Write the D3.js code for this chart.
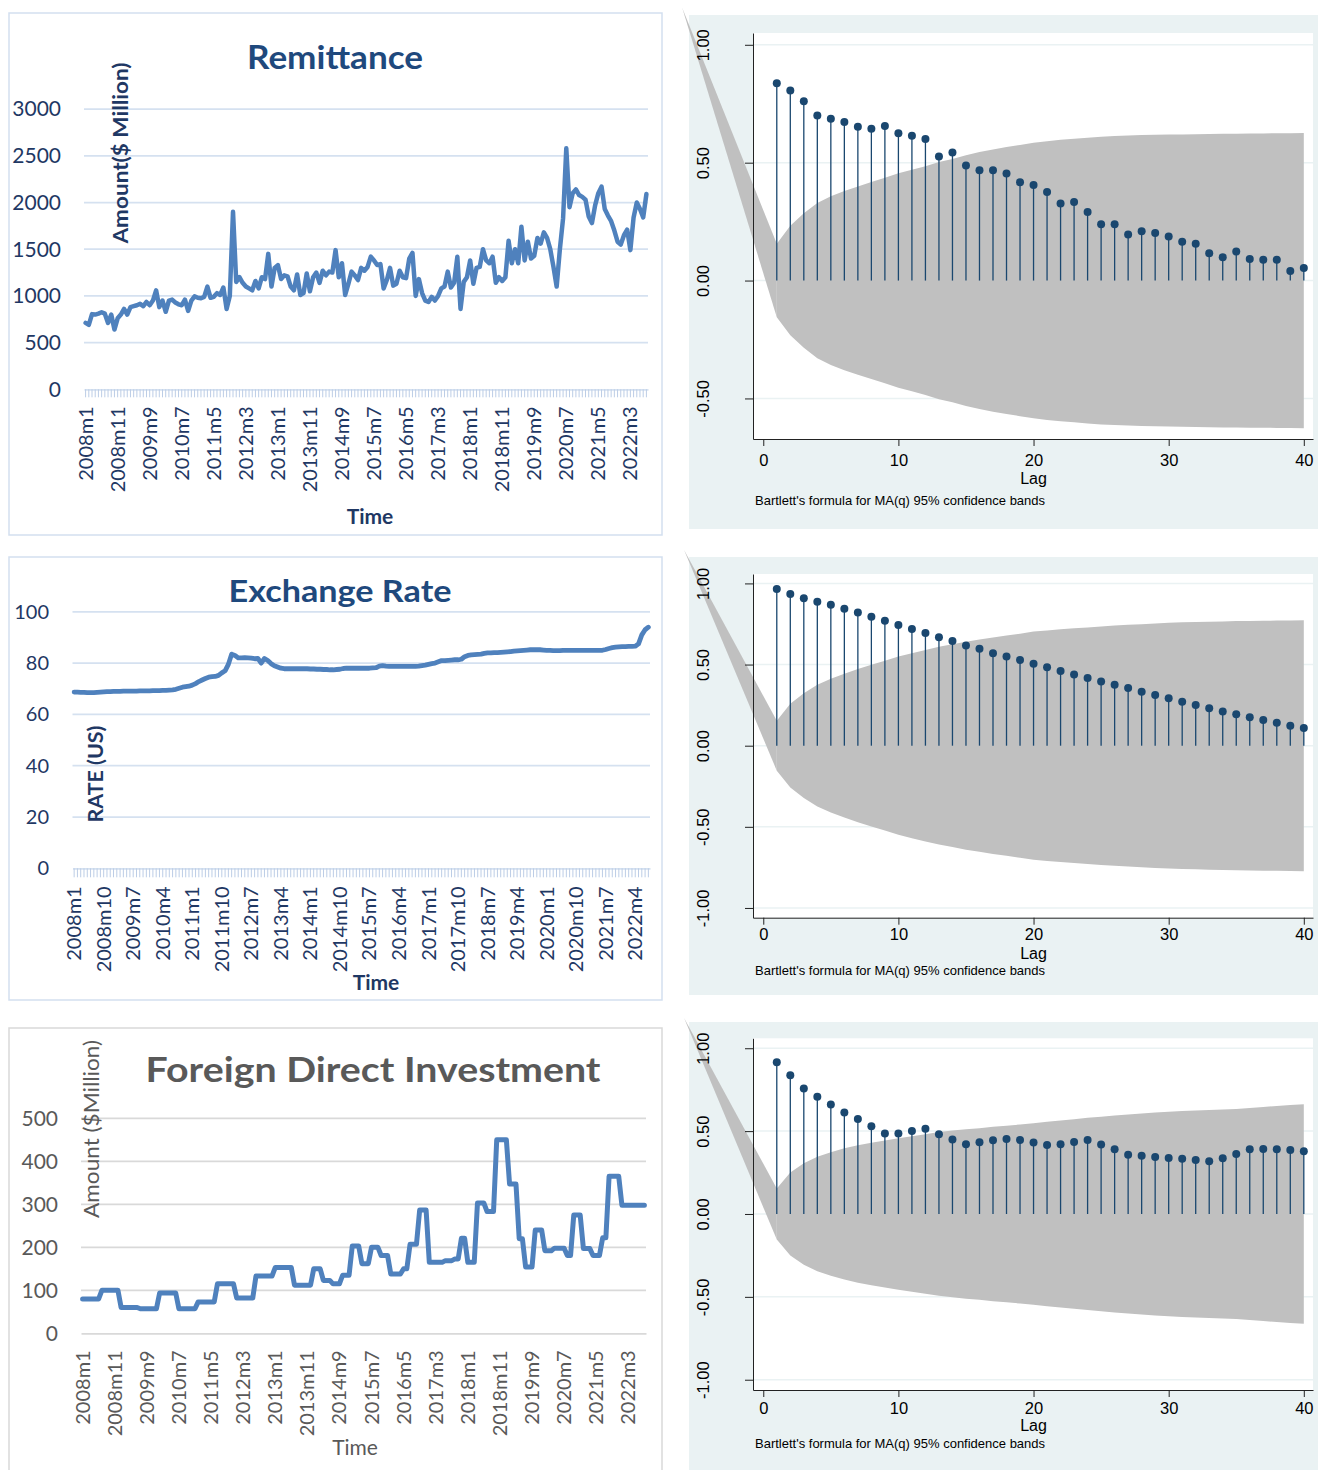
<!DOCTYPE html>
<html>
<head>
<meta charset="utf-8">
<script src="https://cdn.jsdelivr.net/npm/d3@7"></script>
<style>
  body { margin: 0; background: #fff; }
  svg { display: block; }
  .xl text { font-family: Lato, "Open Sans", sans-serif; }
  .st text { font-family: "Liberation Sans", Arial, sans-serif; }
</style>
</head>
<body>
<script>
// monthly categories 2008m1 .. 2022m8
const months = d3.range(176).map(i => (2008 + Math.floor(i / 12)) + 'm' + (i % 12 + 1));

const remitLabels = ['2008m1','2008m11','2009m9','2010m7','2011m5','2012m3','2013m1','2013m11','2014m9',
  '2015m7','2016m5','2017m3','2018m1','2018m11','2019m9','2020m7','2021m5','2022m3'];
const exchLabels = ['2008m1','2008m10','2009m7','2010m4','2011m1','2011m10','2012m7','2013m4','2014m1','2014m10',
  '2015m7','2016m4','2017m1','2017m10','2018m7','2019m4','2020m1','2020m10','2021m7','2022m4'];
const fdiLabels = remitLabels;

const remitTicks = [0, 500, 1000, 1500, 2000, 2500, 3000];
const exchTicks = [0, 20, 40, 60, 80, 100];
const fdiTicks = [0, 100, 200, 300, 400, 500];

const remittance = [
  711,690,805,800,810,825,810,711,800,640,
  760,800,860,800,880,890,900,915,890,935,
  900,950,1060,880,950,830,950,960,930,910,
  900,960,840,950,995,980,975,990,1100,980,
  990,1030,1010,1090,860,1000,1900,1150,1200,1140,
  1100,1080,1060,1160,1080,1200,1180,1450,1100,1300,
  1330,1180,1220,1210,1100,1060,1230,1010,1030,1240,
  1050,1200,1250,1140,1270,1220,1260,1250,1490,1200,
  1350,1010,1130,1260,1220,1170,1300,1270,1310,1420,
  1380,1330,1340,1080,1170,1300,1110,1130,1270,1200,
  1190,1400,1460,1000,1180,1030,950,935,990,950,
  1000,1080,1100,1260,1090,1140,1420,860,1150,1200,
  1380,1130,1300,1310,1500,1380,1350,1420,1140,1200,
  1160,1200,1590,1350,1500,1350,1740,1380,1580,1400,
  1430,1620,1560,1680,1620,1500,1310,1100,1500,1830,
  2580,1950,2100,2140,2080,2060,2030,1850,1780,1970,
  2100,2170,1930,1860,1800,1700,1580,1550,1650,1710,
  1490,1840,2000,1930,1840,2090
];

const exchangeRate = [
  68.7,68.7,68.6,68.6,68.5,68.5,68.5,68.6,68.7,68.8,68.9,68.9,
  69.0,69.0,69.0,69.1,69.1,69.1,69.1,69.1,69.2,69.2,69.2,69.2,
  69.3,69.3,69.3,69.4,69.4,69.5,69.6,69.8,70.2,70.6,70.8,71.0,
  71.4,72.0,72.8,73.4,74.0,74.5,74.7,74.8,75.2,76.2,77.0,79.5,
  83.5,83.0,82.0,82.0,82.1,82.0,81.9,81.7,81.8,80.0,81.8,81.0,
  79.8,79.0,78.5,78.0,77.8,77.8,77.8,77.8,77.8,77.8,77.8,77.8,
  77.7,77.7,77.6,77.6,77.5,77.5,77.4,77.4,77.5,77.6,77.9,78.0,
  78.0,78.0,78.0,78.0,78.0,78.0,78.0,78.1,78.2,78.8,79.0,78.8,
  78.7,78.7,78.7,78.7,78.7,78.7,78.7,78.7,78.7,78.8,79.0,79.2,
  79.5,79.8,80.0,80.5,81.0,81.0,81.1,81.2,81.3,81.3,81.5,82.5,
  83.0,83.2,83.3,83.4,83.5,83.8,84.0,84.0,84.1,84.1,84.2,84.3,
  84.4,84.5,84.7,84.8,84.9,85.0,85.1,85.2,85.2,85.2,85.2,85.1,
  85.0,85.0,84.9,84.9,84.9,85.0,85.0,85.0,85.0,85.0,85.0,85.0,
  85.0,85.0,85.0,85.0,85.0,85.0,85.3,85.7,86.0,86.2,86.3,86.4,
  86.4,86.5,86.5,86.6,87.5,91.0,93.0,94.0
];

const fdi = [
  80,80,80,80,80,80,100,100,100,100,100,100,
  60,60,60,60,60,60,57,57,57,57,57,57,
  94,94,94,94,94,94,57,57,57,57,57,57,
  73,73,73,73,73,73,115,115,115,115,115,115,
  82,82,82,82,82,82,133,133,133,133,133,133,
  153,153,153,153,153,153,112,112,112,112,112,112,
  150,150,150,123,123,123,115,115,115,135,135,135,
  203,203,203,162,162,162,200,200,200,181,181,181,
  138,138,138,138,150,150,207,207,207,287,287,287,
  165,165,165,165,165,169,169,169,173,173,221,221,
  165,165,165,303,303,303,283,283,283,450,450,450,
  450,347,347,347,220,220,154,154,154,240,240,240,
  192,192,192,198,198,198,198,181,181,275,275,275,
  197,197,197,181,181,181,222,222,365,365,365,365,
  298,298,298,298,298,298,298,298
];

// autocorrelations, lags 1..40
const lags = d3.range(1, 41);
const acfRemit = [0.837,0.806,0.760,0.700,0.686,0.672,0.652,0.644,0.656,0.625,
  0.614,0.600,0.526,0.543,0.488,0.468,0.468,0.454,0.417,0.405,
  0.376,0.327,0.333,0.291,0.239,0.239,0.195,0.209,0.202,0.187,
  0.165,0.156,0.116,0.099,0.123,0.091,0.088,0.088,0.041,0.053];
const acfExch = [0.965,0.934,0.908,0.887,0.869,0.844,0.821,0.795,0.770,0.743,
  0.719,0.694,0.669,0.645,0.618,0.598,0.569,0.550,0.528,0.505,
  0.483,0.460,0.439,0.417,0.396,0.376,0.355,0.333,0.312,0.292,
  0.271,0.251,0.230,0.211,0.193,0.175,0.158,0.142,0.123,0.109];
const acfFdi = [0.915,0.837,0.757,0.708,0.660,0.612,0.573,0.529,0.485,0.485,
  0.501,0.515,0.481,0.449,0.421,0.433,0.445,0.453,0.447,0.431,
  0.416,0.421,0.435,0.447,0.419,0.390,0.358,0.352,0.344,0.338,
  0.334,0.326,0.318,0.336,0.362,0.390,0.392,0.390,0.386,0.378];

// Bartlett 95% band half-widths, lags 1..40
const bandRemit = [0.156,0.232,0.285,0.329,0.358,0.380,0.399,0.418,0.436,0.455,
  0.470,0.485,0.503,0.516,0.532,0.545,0.556,0.566,0.575,0.584,
  0.591,0.597,0.601,0.606,0.610,0.613,0.615,0.617,0.618,0.619,
  0.620,0.621,0.622,0.623,0.623,0.624,0.624,0.625,0.625,0.626];
const bandExch = [0.154,0.258,0.323,0.375,0.412,0.443,0.472,0.498,0.523,0.549,
  0.570,0.590,0.609,0.625,0.641,0.654,0.667,0.679,0.690,0.703,
  0.710,0.717,0.723,0.729,0.735,0.740,0.745,0.749,0.753,0.757,
  0.760,0.762,0.764,0.766,0.768,0.769,0.770,0.771,0.772,0.773];
const bandFdi = [0.154,0.250,0.306,0.345,0.373,0.396,0.415,0.430,0.444,0.457,
  0.469,0.481,0.494,0.503,0.511,0.518,0.526,0.533,0.540,0.548,
  0.556,0.564,0.572,0.580,0.587,0.594,0.600,0.606,0.612,0.617,
  0.621,0.625,0.628,0.631,0.634,0.640,0.646,0.652,0.657,0.662];

const svg = d3.select('body').append('svg')
  .attr('width', 1318)
  .attr('height', 1470);

// ---------- Excel style line charts ----------
const lineChart = (o) => {
  const g = svg.append('g').attr('class', 'xl');

  g.append('rect')
    .attr('x', o.box[0]).attr('y', o.box[1])
    .attr('width', o.box[2]).attr('height', o.box[3])
    .attr('fill', '#fff')
    .attr('stroke', o.border)
    .attr('stroke-width', 1.5);

  const xScale = d3.scaleBand().domain(months).range(o.xRange);
  const yScale = d3.scaleLinear().domain([0, o.yMax]).range(o.yRange);

  g.append('g').selectAll('line')
    .data(o.yTicks.filter(d => d > 0))
    .join('line')
      .attr('x1', o.xRange[0]).attr('x2', o.xRange[1])
      .attr('y1', d => yScale(d)).attr('y2', d => yScale(d))
      .attr('stroke', o.grid)
      .attr('stroke-width', 1.75);

  g.append('g').selectAll('text')
    .data(o.yTicks)
    .join('text')
      .attr('x', o.yLabelX)
      .attr('y', d => yScale(d))
      .attr('dy', '0.35em')
      .attr('text-anchor', 'end')
      .attr('fill', o.color)
      .style('font-size', o.yFont + 'px')
      .text(d => d);

  const xAxis = d3.axisBottom(xScale)
    .tickSizeInner(o.tickLen)
    .tickSizeOuter(0)
    .tickFormat(d => o.xLabels.includes(d) ? d : '');

  const xAxisG = g.append('g')
    .attr('transform', `translate(0,${yScale(0)})`)
    .call(xAxis);
  xAxisG.select('.domain').attr('stroke', o.grid).attr('stroke-width', 1.75);
  xAxisG.selectAll('.tick line').attr('stroke', o.tickColor).attr('stroke-width', 1);
  xAxisG.selectAll('.tick text')
    .attr('transform', 'rotate(-90)')
    .attr('x', -o.labelGap)
    .attr('y', 0)
    .attr('dy', '0.35em')
    .style('text-anchor', 'end')
    .style('font-size', '20px')
    .style('font-family', 'Lato, sans-serif')
    .attr('fill', o.color);

  g.append('path')
    .datum(o.values)
    .attr('fill', 'none')
    .attr('stroke', '#4F81BD')
    .attr('stroke-width', o.lineWidth)
    .attr('stroke-linejoin', 'round')
    .attr('stroke-linecap', 'round')
    .attr('d', d3.line()
      .x((d, i) => xScale(months[i]) + xScale.bandwidth() / 2)
      .y(d => yScale(d)));

  g.append('text')
    .attr('x', o.title.x).attr('y', o.title.y)
    .attr('text-anchor', 'middle')
    .attr('fill', o.title.color)
    .attr('textLength', o.title.len)
    .attr('lengthAdjust', 'spacingAndGlyphs')
    .style('font-size', o.title.size + 'px')
    .style('font-weight', 'bold')
    .text(o.title.text);

  g.append('text')
    .attr('transform', `translate(${o.yTitle.x},${o.yTitle.y}) rotate(-90)`)
    .attr('dy', '0.35em')
    .attr('text-anchor', 'middle')
    .attr('fill', o.color)
    .attr('textLength', o.yTitle.len)
    .attr('lengthAdjust', 'spacingAndGlyphs')
    .style('font-size', o.yTitle.size + 'px')
    .style('font-weight', o.yTitle.weight)
    .text(o.yTitle.text);

  g.append('text')
    .attr('x', o.xTitle.x).attr('y', o.xTitle.y)
    .attr('text-anchor', 'middle')
    .attr('fill', o.color)
    .style('font-size', o.xTitle.size + 'px')
    .style('font-weight', o.xTitle.weight)
    .text('Time');
};

lineChart({
  box: [9, 13, 653, 522], border: '#D3DFEF', grid: '#D5E1F0', tickColor: '#BCCDE6',
  color: '#1F3864', xRange: [84, 648], yRange: [389.3, 109.1], yMax: 3000,
  yTicks: remitTicks, yLabelX: 61, yFont: 21, tickLen: 8, labelGap: 17,
  xLabels: remitLabels, values: remittance, lineWidth: 4.5,
  title: { text: 'Remittance', x: 335, y: 69, size: 32, len: 176, color: '#1F497D' },
  yTitle: { text: 'Amount($ Million)', x: 121, y: 153, size: 21, len: 181, weight: 'bold' },
  xTitle: { x: 370, y: 524, size: 21, weight: 'bold' }
});

lineChart({
  box: [9, 557, 653, 443], border: '#D3DFEF', grid: '#D5E1F0', tickColor: '#BCCDE6',
  color: '#1F3864', xRange: [72.5, 650], yRange: [868.3, 611.8], yMax: 100,
  yTicks: exchTicks, yLabelX: 49, yFont: 20, tickLen: 9, labelGap: 18,
  xLabels: exchLabels, values: exchangeRate, lineWidth: 4.8,
  title: { text: 'Exchange Rate', x: 340, y: 602, size: 31, len: 223, color: '#1F497D' },
  yTitle: { text: 'RATE (US)', x: 96, y: 774, size: 20, len: 97, weight: 'bold' },
  xTitle: { x: 376, y: 990, size: 21, weight: 'bold' }
});

lineChart({
  box: [9, 1028, 653, 460], border: '#D9D9D9', grid: '#D9D9D9', tickColor: '#D9D9D9',
  color: '#595959', xRange: [81, 646], yRange: [1333.3, 1118.3], yMax: 500,
  yTicks: fdiTicks, yLabelX: 58, yFont: 21, tickLen: 0, labelGap: 17,
  xLabels: fdiLabels, values: fdi, lineWidth: 5,
  title: { text: 'Foreign Direct Investment', x: 373, y: 1082, size: 34, len: 455, color: '#595959' },
  yTitle: { text: 'Amount ($Million)', x: 92, y: 1129, size: 21, len: 178, weight: 'normal' },
  xTitle: { x: 355, y: 1455, size: 21, weight: 'normal' }
});

// ---------- Stata style correlograms ----------
const acfPanel = (o) => {
  const g = svg.append('g').attr('class', 'st');
  const bandColor = '#C0C0C0';
  const navy = '#1A476F';

  g.append('rect')
    .attr('x', 689).attr('y', o.bg[0])
    .attr('width', 1318 - 689).attr('height', o.bg[1] - o.bg[0])
    .attr('fill', '#EAF2F3');

  const xScale = d3.scaleLinear().domain([-0.76, 40.68]).range([753, 1313]);
  const yScale = d3.scaleLinear().domain(o.yDomain).range(o.yRange);

  g.append('rect')
    .attr('x', 753).attr('y', o.yRange[1])
    .attr('width', 1313 - 753).attr('height', o.yRange[0] - o.yRange[1])
    .attr('fill', '#fff');

  g.append('g').selectAll('line')
    .data(o.yTicks)
    .join('line')
      .attr('x1', 753).attr('x2', 1313)
      .attr('y1', d => yScale(d)).attr('y2', d => yScale(d))
      .attr('stroke', '#EAF2F3')
      .attr('stroke-width', 1.5);

  // confidence band
  g.append('path')
    .datum(o.band)
    .attr('fill', bandColor)
    .attr('d', d3.area()
      .x((d, i) => xScale(lags[i]))
      .y0(d => yScale(-d))
      .y1(d => yScale(d)));

  // band wedge running off to the upper left
  const wedge = [o.apex, [1, o.band[0]], [1, -o.band[0]]];
  g.append('path')
    .datum(wedge)
    .attr('fill', bandColor)
    .attr('d', d3.line()
      .x(d => xScale(d[0]))
      .y(d => yScale(d[1]))
      .curve(d3.curveLinearClosed));

  const stems = g.append('g');
  stems.selectAll('line')
    .data(o.acf)
    .join('line')
      .attr('x1', (d, i) => xScale(lags[i])).attr('x2', (d, i) => xScale(lags[i]))
      .attr('y1', yScale(0)).attr('y2', d => yScale(d))
      .attr('stroke', navy)
      .attr('stroke-width', 1.3);
  stems.selectAll('circle')
    .data(o.acf)
    .join('circle')
      .attr('cx', (d, i) => xScale(lags[i]))
      .attr('cy', d => yScale(d))
      .attr('r', 4)
      .attr('fill', navy);

  const yAxisG = g.append('g')
    .attr('transform', 'translate(753,0)')
    .call(d3.axisLeft(yScale)
      .tickValues(o.yTicks)
      .tickSizeInner(8)
      .tickSizeOuter(0)
      .tickFormat(d => d.toFixed(2)));
  yAxisG.selectAll('.domain, .tick line').attr('stroke', '#222');
  yAxisG.selectAll('.tick text')
    .attr('transform', 'rotate(-90)')
    .attr('x', 0)
    .attr('y', -50)
    .attr('dy', '0.35em')
    .style('text-anchor', 'middle')
    .style('font-size', '16.5px')
    .style('font-family', '"Liberation Sans", Arial, sans-serif')
    .attr('fill', '#000');

  const xAxisG = g.append('g')
    .attr('transform', `translate(0,${o.yRange[0]})`)
    .call(d3.axisBottom(xScale)
      .tickValues([0, 10, 20, 30, 40])
      .tickSizeInner(7)
      .tickSizeOuter(0)
      .tickFormat(d3.format('d')));
  xAxisG.selectAll('.domain, .tick line').attr('stroke', '#222');
  xAxisG.selectAll('.tick text')
    .attr('dy', null)
    .attr('y', o.lagLabelY - o.yRange[0])
    .style('font-size', '16.5px')
    .style('font-family', '"Liberation Sans", Arial, sans-serif')
    .attr('fill', '#000');

  g.append('text')
    .attr('x', xScale(20)).attr('y', o.lagTitleY)
    .attr('text-anchor', 'middle')
    .style('font-size', '16px')
    .text('Lag');

  g.append('text')
    .attr('x', 755).attr('y', o.noteY)
    .style('font-size', '13px')
    .text("Bartlett's formula for MA(q) 95% confidence bands");
};

acfPanel({
  bg: [15, 529], yDomain: [-0.672, 1.05], yRange: [439, 33],
  yTicks: [-0.5, 0, 0.5, 1], acf: acfRemit, band: bandRemit, apex: [-6.0, 1.157],
  lagLabelY: 466, lagTitleY: 484, noteY: 505
});

acfPanel({
  bg: [557, 995], yDomain: [-1.06, 1.058], yRange: [917.7, 574],
  yTicks: [-1, -0.5, 0, 0.5, 1], acf: acfExch, band: bandExch, apex: [-5.86, 1.206],
  lagLabelY: 940, lagTitleY: 959, noteY: 975
});

acfPanel({
  bg: [1022, 1470], yDomain: [-1.062, 1.06], yRange: [1390, 1038.3],
  yTicks: [-1, -0.5, 0, 0.5, 1], acf: acfFdi, band: bandFdi, apex: [-5.86, 1.183],
  lagLabelY: 1414, lagTitleY: 1431, noteY: 1448
});
</script>
</body>
</html>
